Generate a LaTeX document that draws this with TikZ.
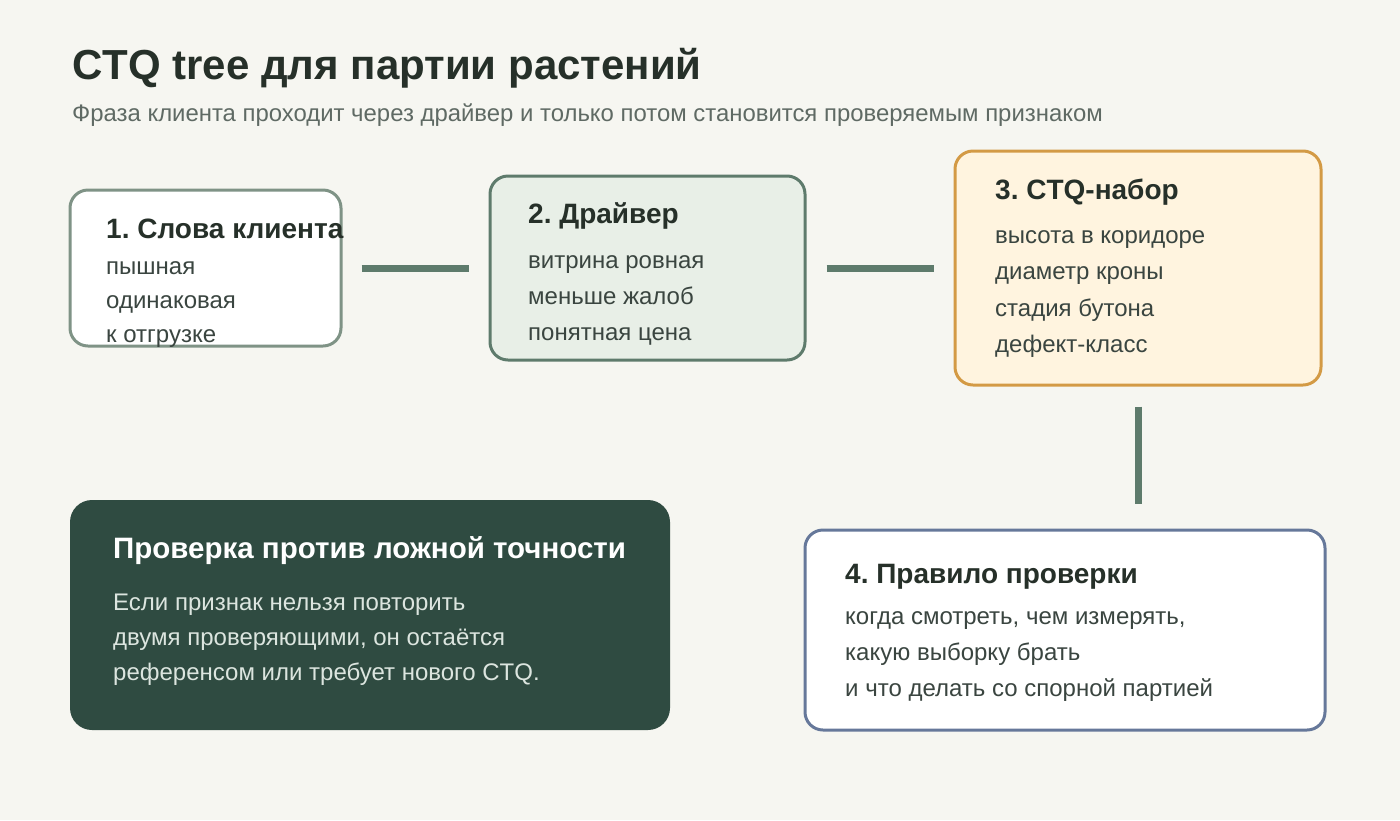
\documentclass[tikz,border=0pt]{standalone}
\usepackage{fontspec}
\setmainfont{Liberation Sans}
\usetikzlibrary{positioning}
\frenchspacing
\definecolor{bg}{HTML}{F6F6F1}
\definecolor{ink}{HTML}{263029}
\definecolor{body}{HTML}{3A4540}
\definecolor{sub}{HTML}{5F6A64}
\definecolor{linkc}{HTML}{5E7B6C}
\definecolor{wordsline}{HTML}{7F9386}
\definecolor{driverfill}{HTML}{E8EFE7}
\definecolor{ctqfill}{HTML}{FFF4DF}
\definecolor{ctqline}{HTML}{D39A45}
\definecolor{ruleline}{HTML}{66789A}
\definecolor{darkfill}{HTML}{2F4B41}
\definecolor{darktext}{HTML}{DCE5DF}
\tikzstyle{card} = [draw, rounded corners=18pt, line width=3pt, inner sep=0pt]
\tikzstyle{head} = [anchor=base west, inner sep=0pt, text=ink, font=\fontsize{28}{32}\selectfont\bfseries]
\tikzstyle{item} = [anchor=base west, inner sep=0pt, text=body, font=\fontsize{24}{28}\selectfont]
\tikzstyle{link} = [draw=linkc, line width=7pt]

\begin{document}
\begin{tikzpicture}[x=1pt,y=-1pt]
	\fill[bg] (0,0) rectangle (1400,820);
	\useasboundingbox (0,0) rectangle (1400,820);
	\node[anchor=base west, inner sep=0pt, text=ink, font=\fontsize{42}{48}\selectfont\bfseries] (title) at (72,79) {CTQ tree для партии растений};
	\node[anchor=base west, inner sep=0pt, text=sub, font=\fontsize{23.9}{28}\selectfont] (subtitle) at (72,121) {Фраза клиента проходит через драйвер и только потом становится проверяемым признаком};

	\node[card, draw=wordsline, fill=white, minimum width=271pt, minimum height=156pt] (words) at (205.5,268) {};
	\node[card, draw=linkc, fill=driverfill, minimum width=315pt, minimum height=184pt] (driver) at (647.5,268) {};
	\node[card, draw=ctqline, fill=ctqfill, minimum width=366pt, minimum height=234pt] (ctq) at (1138,268) {};
	\node[card, draw=ruleline, fill=white, minimum width=520pt, minimum height=200pt] (rule) at (1065,630) {};
	\node[fill=darkfill, rounded corners=22pt, inner sep=0pt, minimum width=600pt, minimum height=230pt] (guard) at (370,615) {};

	\draw[link, shorten <=19pt, shorten >=20pt] (words) -- (driver);
	\draw[link, shorten <=20pt, shorten >=20pt] (driver) -- (ctq);
	\draw[link, shorten <=20pt, shorten >=25pt] (ctq.south) -- (ctq.south |- rule.north);

	\node[head] (wordshead) at (106,238) {1. Слова клиента};
	\node[item] (words1) at (106,274) {пышная};
	\node[item] (words2) at (106,308) {одинаковая};
	\node[item] (words3) at (106,342) {к отгрузке};

	\node[head] (driverhead) at (528,223) {2. Драйвер};
	\node[item] (driver1) at (528,268) {витрина ровная};
	\node[item] (driver2) at (528,304) {меньше жалоб};
	\node[item] (driver3) at (528,340) {понятная цена};

	\node[head] (ctqhead) at (995,199) {3. CTQ-набор};
	\node[item] (ctq1) at (995,243) {высота в коридоре};
	\node[item] (ctq2) at (995,279) {диаметр кроны};
	\node[item] (ctq3) at (995,316) {стадия бутона};
	\node[item] (ctq4) at (995,352) {дефект-класс};

	\node[head] (rulehead) at (845,583) {4. Правило проверки};
	\node[item] (rule1) at (845,624) {когда смотреть, чем измерять,};
	\node[item] (rule2) at (845,660) {какую выборку брать};
	\node[item] (rule3) at (845,696) {и что делать со спорной партией};

	\node[head, text=white, font=\fontsize{29.5}{34}\selectfont\bfseries] (guardhead) at (113,558) {Проверка против ложной точности};
	\node[item, text=darktext] (guard1) at (113,610) {Если признак нельзя повторить};
	\node[item, text=darktext] (guard2) at (113,645) {двумя проверяющими, он остаётся};
	\node[item, text=darktext] (guard3) at (113,680) {референсом или требует нового CTQ.};
\end{tikzpicture}
\end{document}
